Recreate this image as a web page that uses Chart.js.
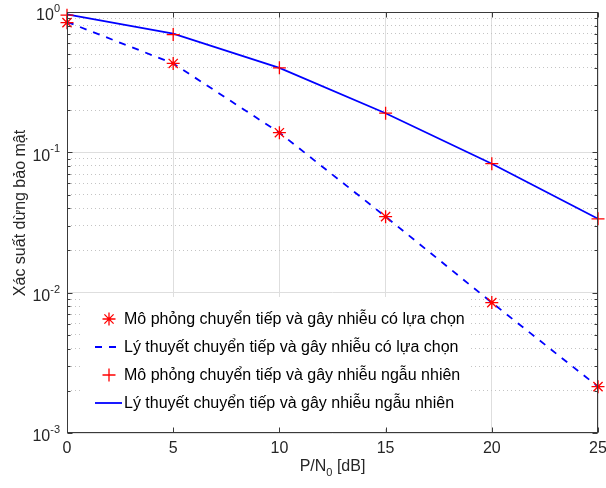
<!DOCTYPE html>
<html>
<head>
<meta charset="utf-8">
<script src="https://cdn.jsdelivr.net/npm/chart.js@4.4.1/dist/chart.umd.min.js"></script>
<style>
  html, body { margin: 0; padding: 0; background: #fff; }
</style>
</head>
<body>
<canvas id="chart" width="606" height="488"></canvas>
<script>
// P/N0 in dB
const snr = [0, 5, 10, 15, 20, 25];

// secrecy outage probability
const simSelective = [0.84, 0.43, 0.138, 0.0348, 0.0085, 0.00214];
const theorySelective = [0.85, 0.43, 0.138, 0.0348, 0.0085, 0.00214];
const simRandom = [0.95, 0.69, 0.40, 0.19, 0.083, 0.0336];
const theoryRandom = [0.96, 0.70, 0.40, 0.19, 0.083, 0.0336];

const xTicks = [0, 5, 10, 15, 20, 25];
const yTickPowers = [0, -1, -2, -3];

const legendLabels = [
    'Mô phỏng chuyển tiếp và gây nhiễu có lựa chọn',
    'Lý thuyết chuyển tiếp và gây nhiễu có lựa chọn',
    'Mô phỏng chuyển tiếp và gây nhiễu ngẫu nhiên',
    'Lý thuyết chuyển tiếp và gây nhiễu ngẫu nhiên'
];
const xTitle = ['P/N', '0', ' [dB]'];
const yTitle = 'Xác suất dừng bảo mật';

const fontFamily = "'Liberation Sans', Arial, sans-serif";
const textColor = '#262626';
const axisColor = '#3a3a3a';
const majorGrid = '#dedede';
const minorGrid = '#c4c4c4';

// grid values on the log axis: 1..9 x 10^p
const gridValues = [];
for (let p = -3; p < 0; p++) {
    for (let m = 1; m < 10; m++) {
        gridValues.push(Number((m * Math.pow(10, p)).toPrecision(3)));
    }
}
gridValues.push(1);

const isDecade = (v) => Math.abs(Math.log10(v) - Math.round(Math.log10(v))) < 1e-9;
const points = (arr) => snr.map((x, i) => ({ x: x, y: arr[i] }));

// axis frame, inward ticks, tick labels, titles and legend
const decorations = {
    id: 'decorations',
    afterDraw(chart) {
        const { ctx, chartArea: a, scales: { x, y } } = chart;
        const left = Math.round(a.left) + 0.5;
        const right = Math.round(a.right) - 0.5;
        const top = Math.round(a.top) + 0.5;
        const bottom = Math.round(a.bottom) - 0.5;

        ctx.save();

        // legend
        ctx.fillStyle = '#fff';
        ctx.fillRect(83, 297, 388, 132);
        const rowY = [319, 347, 375, 403];
        rowY.forEach((ry, i) => {
            ctx.strokeStyle = i % 2 === 0 ? '#ff0000' : '#0000ff';
            ctx.lineWidth = i % 2 === 0 ? 1.3 : 1.8;
            ctx.setLineDash([]);
            ctx.beginPath();
            if (i === 0) {
                const r = 6.5, d = r * Math.SQRT1_2;
                ctx.moveTo(109 - r, ry); ctx.lineTo(109 + r, ry);
                ctx.moveTo(109, ry - r); ctx.lineTo(109, ry + r);
                ctx.moveTo(109 - d, ry - d); ctx.lineTo(109 + d, ry + d);
                ctx.moveTo(109 - d, ry + d); ctx.lineTo(109 + d, ry - d);
            } else if (i === 2) {
                ctx.moveTo(102.5, ry); ctx.lineTo(115.5, ry);
                ctx.moveTo(109, ry - 6.5); ctx.lineTo(109, ry + 6.5);
            } else {
                if (i === 1) ctx.setLineDash([7, 7]);
                ctx.moveTo(95, ry); ctx.lineTo(122, ry);
            }
            ctx.stroke();
            ctx.setLineDash([]);
            ctx.fillStyle = '#000';
            ctx.font = '16px ' + fontFamily;
            ctx.textAlign = 'left';
            ctx.textBaseline = 'middle';
            ctx.fillText(legendLabels[i], 124, ry + 1);
        });

        // frame
        ctx.strokeStyle = axisColor;
        ctx.lineWidth = 1;
        ctx.strokeRect(left, top, right - left, bottom - top);

        // inward ticks
        ctx.beginPath();
        xTicks.forEach(v => {
            const px = Math.round(x.getPixelForValue(v)) + 0.5;
            ctx.moveTo(px, bottom); ctx.lineTo(px, bottom - 5);
            ctx.moveTo(px, top); ctx.lineTo(px, top + 5);
        });
        gridValues.forEach(v => {
            const py = Math.round(y.getPixelForValue(v)) + 0.5;
            const len = isDecade(v) ? 5 : 3;
            ctx.moveTo(left, py); ctx.lineTo(left + len, py);
            ctx.moveTo(right, py); ctx.lineTo(right - len, py);
        });
        ctx.stroke();

        // y tick labels 10^p
        ctx.fillStyle = textColor;
        ctx.textAlign = 'right';
        ctx.textBaseline = 'middle';
        yTickPowers.forEach(p => {
            const py = y.getPixelForValue(Math.pow(10, p));
            const exp = p === 0 ? '0' : '-' + Math.abs(p);
            ctx.font = '11px ' + fontFamily;
            const ew = ctx.measureText(exp).width;
            ctx.fillText(exp, 60, py - 3);
            ctx.font = '16px ' + fontFamily;
            ctx.fillText('10', 60 - ew, py + 4);
        });

        // x title with subscript
        ctx.textAlign = 'left';
        ctx.textBaseline = 'middle';
        ctx.font = '16px ' + fontFamily;
        const w0 = ctx.measureText(xTitle[0]).width;
        const w2 = ctx.measureText(xTitle[2]).width;
        ctx.font = '11px ' + fontFamily;
        const w1 = ctx.measureText(xTitle[1]).width;
        let tx = (a.left + a.right) / 2 - (w0 + w1 + w2) / 2;
        const ty = 467;
        ctx.font = '16px ' + fontFamily;
        ctx.fillText(xTitle[0], tx, ty);
        ctx.font = '11px ' + fontFamily;
        ctx.fillText(xTitle[1], tx + w0, ty + 6);
        ctx.font = '16px ' + fontFamily;
        ctx.fillText(xTitle[2], tx + w0 + w1, ty);

        // y title
        ctx.translate(21, 213);
        ctx.rotate(-Math.PI / 2);
        ctx.textAlign = 'center';
        ctx.fillText(yTitle, 0, 0);

        ctx.restore();
    }
};

const chart = new Chart('chart', {
    type: 'line',
    data: {
        datasets: [
            {
                label: legendLabels[0],
                data: points(simSelective),
                showLine: false,
                pointStyle: 'star',
                pointRadius: 6.5,
                pointBorderWidth: 1.3,
                pointBorderColor: '#ff0000',
                borderColor: '#ff0000',
                order: 0,
                clip: false
            },
            {
                label: legendLabels[1],
                data: points(theorySelective),
                borderColor: '#0000ff',
                borderWidth: 1.8,
                borderDash: [7, 7],
                pointRadius: 0,
                order: 1,
                clip: false
            },
            {
                label: legendLabels[2],
                data: points(simRandom),
                showLine: false,
                pointStyle: 'cross',
                pointRadius: 6.5,
                pointBorderWidth: 1.3,
                pointBorderColor: '#ff0000',
                borderColor: '#ff0000',
                order: 0,
                clip: false
            },
            {
                label: legendLabels[3],
                data: points(theoryRandom),
                borderColor: '#0000ff',
                borderWidth: 1.8,
                pointRadius: 0,
                order: 1,
                clip: false
            }
        ]
    },
    options: {
        responsive: false,
        animation: false,
        devicePixelRatio: 1,
        layout: { padding: { top: 12, right: 8, left: 0, bottom: 0 } },
        plugins: {
            legend: { display: false },
            tooltip: { enabled: false }
        },
        scales: {
            x: {
                type: 'linear',
                min: 0,
                max: 25,
                afterBuildTicks: (scale) => { scale.ticks = xTicks.map(v => ({ value: v })); },
                afterFit: (scale) => {
                    scale.height = 55;
                    scale.paddingLeft = 0;
                    scale.paddingRight = 0;
                },
                ticks: {
                    color: textColor,
                    font: { family: fontFamily, size: 16 },
                    padding: 6,
                    maxRotation: 0
                },
                grid: { color: majorGrid, drawTicks: false },
                border: { display: false }
            },
            y: {
                type: 'logarithmic',
                min: 0.001,
                max: 1,
                afterBuildTicks: (scale) => { scale.ticks = gridValues.map(v => ({ value: v })); },
                afterFit: (scale) => {
                    scale.width = 67;
                    scale.paddingTop = 0;
                    scale.paddingBottom = 0;
                },
                ticks: { display: false },
                grid: {
                    color: (c) => (c.tick && !isDecade(c.tick.value)) ? minorGrid : majorGrid,
                    drawTicks: false
                },
                border: {
                    display: false,
                    dash: (c) => (c.tick && !isDecade(c.tick.value)) ? [1, 3] : []
                }
            }
        }
    },
    plugins: [decorations]
});
</script>
</body>
</html>
